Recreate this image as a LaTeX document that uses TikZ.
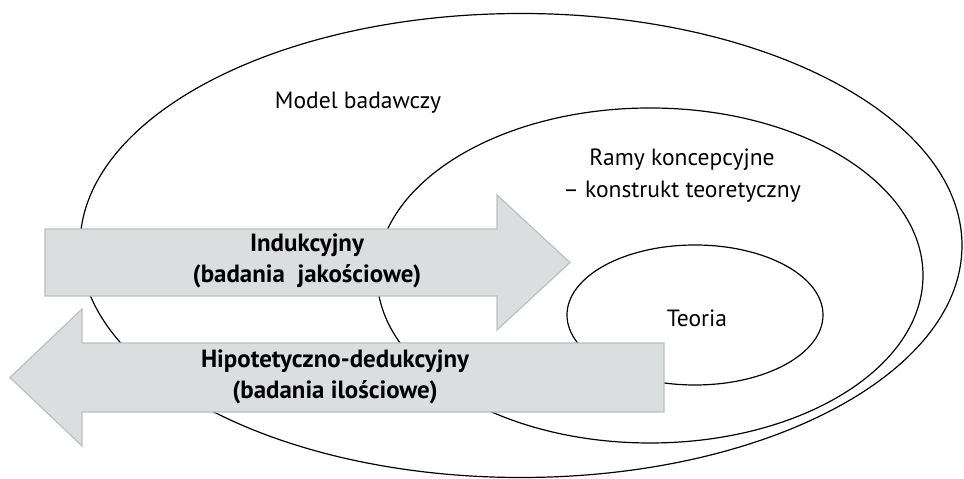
\documentclass[tikz,border=0pt]{standalone}
\usepackage{fontspec}
\setmainfont{PT Sans}
\definecolor{arrowgray}{RGB}{220,221,223}
\definecolor{arrowedge}{RGB}{190,191,193}
\begin{document}
\begin{tikzpicture}[x=0.5bp, y=-0.5bp]
  \tikzset{
    ring/.style={draw=black, line width=0.6pt},
    blockarrow/.style={fill=arrowgray, draw=arrowedge, line width=0.6pt},
    lbl/.style={font=\fontsize{11.8}{16}\selectfont, align=center, inner sep=0pt},
    boldlbl/.style={lbl, font=\fontsize{12.5}{15.5}\selectfont\bfseries}
  }
  \useasboundingbox (0,0) rectangle (964,479);
  % nested ellipses
  \draw[ring] (521,245.5) ellipse [x radius=441, y radius=232];
  \draw[ring] (650,275.5) ellipse [x radius=273, y radius=167.5];
  \draw[ring] (695,315) ellipse [x radius=128, y radius=70];
  \node[lbl] (model) at (358,103) {Model badawczy};
  \node[lbl] (ramy) at (682,176) {Ramy koncepcyjne\\– konstrukt teoretyczny};
  \node[lbl] (teoria) at (697,318) {Teoria};
  % block arrows
  \filldraw[blockarrow] (45,229) -- (497,229) -- (497,195) -- (570,262.5)
    -- (497,330) -- (497,296) -- (45,296) -- cycle;
  \filldraw[blockarrow] (664,343) -- (82,343) -- (82,309) -- (10,377.5)
    -- (82,446) -- (82,412) -- (664,412) -- cycle;
  \node[boldlbl] (induk) at (307,261) {Indukcyjny\\(badania\ \ jakościowe)};
  \node[boldlbl] (dedukt) at (335,377) {Hipotetyczno-dedukcyjny\\(badania ilościowe)};
\end{tikzpicture}
\end{document}
